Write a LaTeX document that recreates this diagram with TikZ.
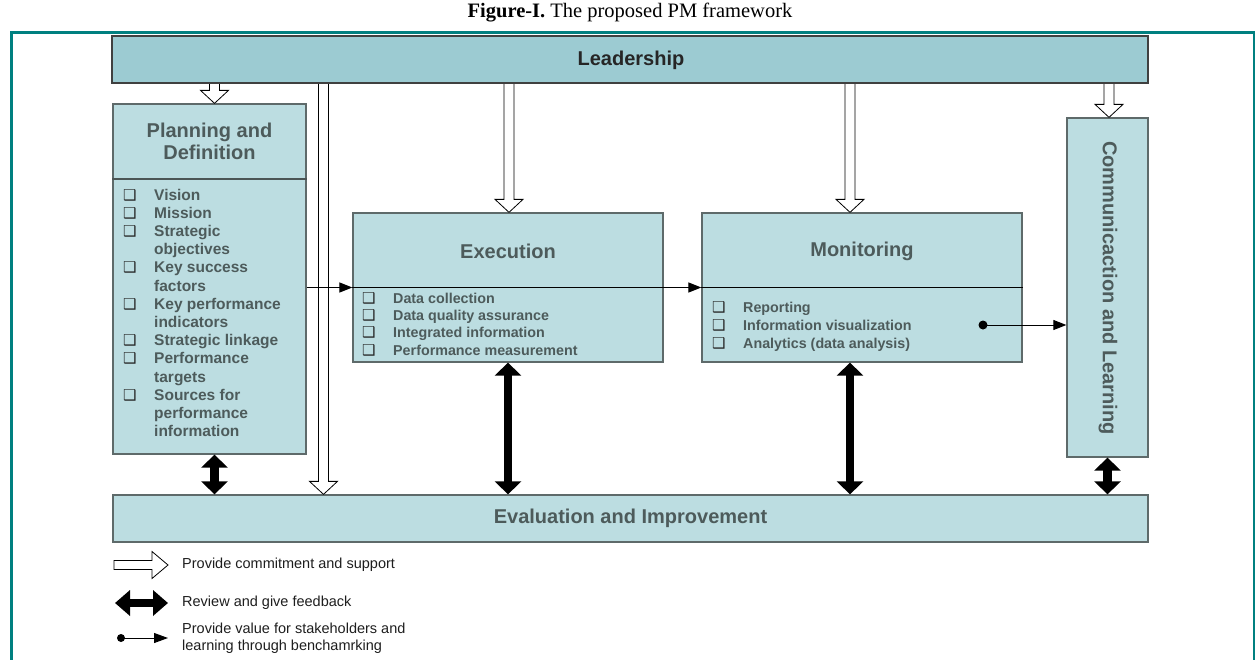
\documentclass[tikz,border=0pt]{standalone}
\usepackage{fontspec}
\setmainfont{Liberation Sans}
\newfontfamily\serifcap{Liberation Serif}
\newfontfamily\dejavu{DejaVu Sans}
\usetikzlibrary{arrows.meta,calc}
\definecolor{teal1}{HTML}{008080}
\definecolor{boxfill}{HTML}{BCDDE1}
\definecolor{leadfill}{HTML}{9CCBD2}
\definecolor{boxline}{HTML}{5E6A6A}
\definecolor{boxtext}{HTML}{4D5B5B}
\definecolor{legtext}{HTML}{1E1E1E}
\newcommand\cb{\makebox[31pt][l]{\textcolor{black!85}{\dejavu\bfseries\fontsize{15}{15}\selectfont ❑}}}
\newcommand\hollowdown[2]{%
  \draw[hollow] let \p1=(#1), \p2=(#2) in
    (\x1-5pt,\y1) -- (\x1-5pt,\y2+13pt) -- (\x1-14pt,\y2+13pt) -- (\x1,\y2)
    -- (\x1+14pt,\y2+13pt) -- (\x1+5pt,\y2+13pt) -- (\x1+5pt,\y1);}
\begin{document}
\begin{tikzpicture}[x=1pt,y=-1pt,
  box/.style={draw=boxline, line width=1.3pt, fill=boxfill, rectangle, inner sep=0pt},
  title/.style={font=\fontsize{20}{22}\selectfont\bfseries, text=boxtext, align=center, inner sep=0pt},
  listtext/.style={text=boxtext, inner sep=0pt, anchor=base west},
  hollow/.style={draw=black, fill=white, line width=0.8pt},
  fb/.style={line width=8.5pt, {Triangle[width=26pt,length=13pt]}-{Triangle[width=26pt,length=13pt]}},
  thin/.style={line width=1.2pt, -{Triangle[width=10pt,length=13pt]}},
  legend/.style={font=\fontsize{14.5}{17}\selectfont, text=legtext, anchor=west, align=left, inner sep=0pt}]
\useasboundingbox (0,0) rectangle (1255,659);

% frame
\draw[teal1, line width=3pt] (11.5,660) -- (11.5,32) -- (1255,32);
\draw[teal1, line width=1.5pt] (1254,32) -- (1254,660);

% caption
\node[font=\serifcap\fontsize{20.5}{24}\selectfont, inner sep=0pt] (cap) at (630,13)
  {\textbf{Figure-I.} The proposed PM framework};

% coordinates for the hollow arrows
\coordinate (ha1) at (214.5,0);
\coordinate (ha2) at (323.5,0);
\coordinate (ha3) at (509,0);
\coordinate (ha4) at (850,0);
\coordinate (ha5) at (1109,0);

% boxes
\node[box, draw=black!75, fill=leadfill, minimum width=1036pt, minimum height=47pt] (lead) at (630,59.5) {};
\node[box, minimum width=193pt, minimum height=350pt] (plan) at (209.5,279) {};
\node[box, minimum width=310pt, minimum height=149pt] (exec) at (508,287.5) {};
\node[box, minimum width=320pt, minimum height=149pt] (mon) at (862,287.5) {};
\node[box, minimum width=81pt, minimum height=339pt] (comm) at (1107.5,287.5) {};
\node[box, minimum width=1035pt, minimum height=47pt] (eval) at (630.5,518.5) {};

% hollow arrows
\hollowdown{lead.south -| ha1}{plan.north -| ha1}
\hollowdown{lead.south -| ha2}{eval.north -| ha2}
\hollowdown{lead.south -| ha3}{exec.north -| ha3}
\hollowdown{lead.south -| ha4}{mon.north -| ha4}
\hollowdown{lead.south -| ha5}{comm.north -| ha5}
\draw[black!75, line width=1.3pt] (lead.south west) -- (lead.south east);

% planning header divider
\coordinate (pd) at (0,179);
\draw[boxline!80!black, line width=1.3pt] (plan.west |- pd) -- (plan.east |- pd);

% titles
\node[font=\fontsize{20}{22}\selectfont\bfseries, text=black!85, inner sep=0pt] (leadt) at (631,60) {Leadership};
\node[title] (plant) at (209.5,141) {Planning and\\Definition};
\node[title] (exect) at (508,251) {Execution};
\node[title] (mont) at (862,251) {Monitoring};
\node[title, rotate=-90] (commt) at (1108,288) {Communicaction and Learning};
\node[title] (evalt) at (630.5,518.5) {Evaluation and Improvement};

% lists
\node[listtext, font=\fontsize{15.5}{18.2}\selectfont\bfseries] (planlist) at (123,200) {%
\begin{tabular}[t]{@{}l@{}l@{}}
\cb & Vision\\
\cb & Mission\\
\cb & Strategic\\
    & objectives\\
\cb & Key success\\
    & factors\\
\cb & Key performance\\
    & indicators\\
\cb & Strategic linkage\\
\cb & Performance\\
    & targets\\
\cb & Sources for\\
    & performance\\
    & information
\end{tabular}};
\node[listtext, font=\fontsize{14.3}{17.4}\selectfont\bfseries] (execlist) at (362,303) {%
\begin{tabular}[t]{@{}l@{}l@{}}
\cb & Data collection\\
\cb & Data quality assurance\\
\cb & Integrated information\\
\cb & Performance measurement
\end{tabular}};
\node[listtext, font=\fontsize{14.3}{17.8}\selectfont\bfseries] (monlist) at (712,312.5) {%
\begin{tabular}[t]{@{}l@{}l@{}}
\cb & Reporting\\
\cb & Information visualization\\
\cb & Analytics (data analysis)
\end{tabular}};

% flow arrows and dividers
\draw[thin] (plan.east |- exec.west) -- (exec.west);
\draw[line width=1.2pt] (exec.west) -- (exec.east);
\draw[thin] (exec.east) -- (mon.west);
\draw[line width=1.2pt] (mon.west) -- (mon.east);

% value arrow
\coordinate (vdot) at (983,325);
\fill (vdot) circle (4.5pt);
\draw[thin, line width=1pt] (vdot) -- (vdot -| comm.west);

% feedback arrows
\draw[fb] (plan.south -| ha1) -- (eval.north -| ha1);
\draw[fb] (exec.south) -- (eval.north -| exec.south);
\draw[fb] (mon.south -| ha4) -- (eval.north -| ha4);
\draw[fb] (comm.south) -- (eval.north -| comm.south);

% legend
\coordinate (l1a) at (114,565);
\coordinate (l1b) at (168,565);
\draw[hollow] let \p1=(l1a), \p2=(l1b) in
  (\x1,\y1+4.5pt) -- (\x2-16pt,\y1+4.5pt) -- (\x2-16pt,\y1+13.5pt) -- (\x2,\y1)
  -- (\x2-16pt,\y1-13.5pt) -- (\x2-16pt,\y1-4.5pt) -- (\x1,\y1-4.5pt) -- cycle;
\node[legend] (leg1) at (182,565) {Provide commitment and support};

\coordinate (l2a) at (115,603);
\coordinate (l2b) at (168,603);
\draw[line width=8pt, {Triangle[width=25pt,length=15pt]}-{Triangle[width=25pt,length=15pt]}] (l2a) -- (l2b);
\node[legend] (leg2) at (182,603) {Review and give feedback};

\coordinate (l3a) at (121,638);
\coordinate (l3b) at (168,638);
\fill (l3a) circle (4pt);
\draw[line width=1pt, -{Triangle[width=10pt,length=14pt]}] (l3a) -- (l3b);
\node[legend] (leg3) at (182,638) {Provide value for stakeholders and\\learning through benchamrking};
\end{tikzpicture}
\end{document}
